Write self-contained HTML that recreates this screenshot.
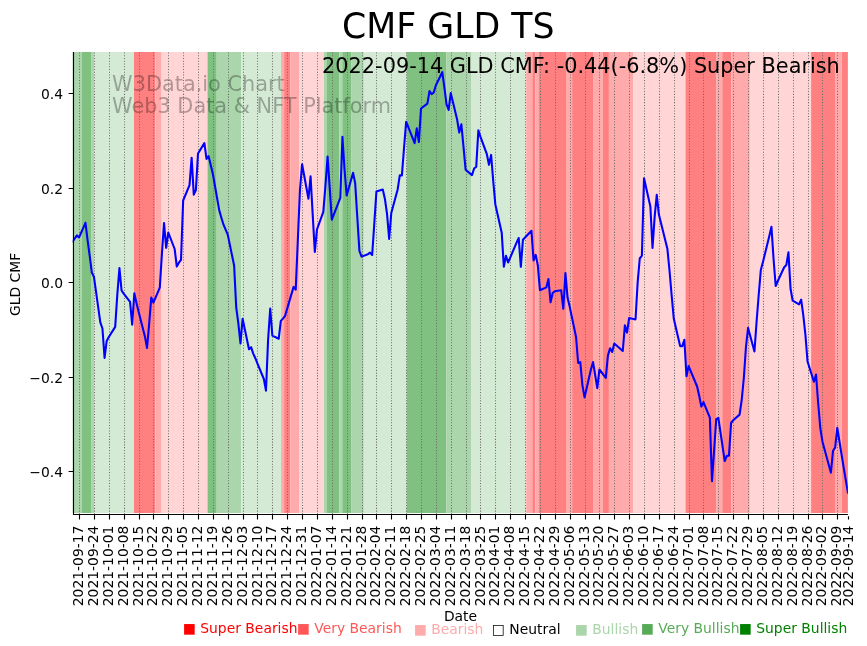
<!DOCTYPE html>
<html><head><meta charset="utf-8"><title>CMF GLD TS</title>
<style>html,body{margin:0;padding:0;background:#fff;}svg{display:block;}</style>
</head><body>
<svg width="867" height="646" viewBox="0 0 867 646">
<rect width="867" height="646" fill="#fff"/>
<rect x="72.71" y="52.0" width="9.19" height="461.0" fill="#abd5ab"/>
<rect x="81.90" y="52.0" width="9.19" height="461.0" fill="#80c080"/>
<rect x="91.09" y="52.0" width="3.06" height="461.0" fill="#abd5ab"/>
<rect x="94.16" y="52.0" width="39.83" height="461.0" fill="#d5ead5"/>
<rect x="133.99" y="52.0" width="21.45" height="461.0" fill="#ff8080"/>
<rect x="155.44" y="52.0" width="6.13" height="461.0" fill="#ffabab"/>
<rect x="161.56" y="52.0" width="45.96" height="461.0" fill="#ffd5d5"/>
<rect x="207.52" y="52.0" width="9.19" height="461.0" fill="#80c080"/>
<rect x="216.71" y="52.0" width="24.51" height="461.0" fill="#abd5ab"/>
<rect x="241.23" y="52.0" width="39.83" height="461.0" fill="#d5ead5"/>
<rect x="281.06" y="52.0" width="3.06" height="461.0" fill="#ffabab"/>
<rect x="284.12" y="52.0" width="6.13" height="461.0" fill="#ff8080"/>
<rect x="290.25" y="52.0" width="9.19" height="461.0" fill="#ffabab"/>
<rect x="299.44" y="52.0" width="24.51" height="461.0" fill="#ffd5d5"/>
<rect x="323.95" y="52.0" width="3.06" height="461.0" fill="#abd5ab"/>
<rect x="327.01" y="52.0" width="12.26" height="461.0" fill="#80c080"/>
<rect x="339.27" y="52.0" width="3.06" height="461.0" fill="#abd5ab"/>
<rect x="342.33" y="52.0" width="9.19" height="461.0" fill="#80c080"/>
<rect x="351.53" y="52.0" width="12.26" height="461.0" fill="#abd5ab"/>
<rect x="363.78" y="52.0" width="42.89" height="461.0" fill="#d5ead5"/>
<rect x="406.68" y="52.0" width="39.83" height="461.0" fill="#80c080"/>
<rect x="446.51" y="52.0" width="24.51" height="461.0" fill="#abd5ab"/>
<rect x="471.02" y="52.0" width="55.15" height="461.0" fill="#d5ead5"/>
<rect x="526.17" y="52.0" width="6.13" height="461.0" fill="#ffabab"/>
<rect x="532.30" y="52.0" width="3.06" height="461.0" fill="#ff8080"/>
<rect x="535.36" y="52.0" width="3.06" height="461.0" fill="#ffabab"/>
<rect x="538.42" y="52.0" width="27.58" height="461.0" fill="#ff8080"/>
<rect x="566.00" y="52.0" width="6.13" height="461.0" fill="#ffabab"/>
<rect x="572.13" y="52.0" width="21.45" height="461.0" fill="#ff8080"/>
<rect x="593.58" y="52.0" width="9.19" height="461.0" fill="#ffabab"/>
<rect x="602.77" y="52.0" width="6.13" height="461.0" fill="#ff8080"/>
<rect x="608.89" y="52.0" width="24.51" height="461.0" fill="#ffabab"/>
<rect x="633.41" y="52.0" width="52.09" height="461.0" fill="#ffd5d5"/>
<rect x="685.49" y="52.0" width="30.64" height="461.0" fill="#ff8080"/>
<rect x="716.13" y="52.0" width="6.13" height="461.0" fill="#ffabab"/>
<rect x="722.26" y="52.0" width="9.19" height="461.0" fill="#ff8080"/>
<rect x="731.45" y="52.0" width="18.38" height="461.0" fill="#ffabab"/>
<rect x="749.83" y="52.0" width="61.28" height="461.0" fill="#ffd5d5"/>
<rect x="811.11" y="52.0" width="24.51" height="461.0" fill="#ff8080"/>
<rect x="835.62" y="52.0" width="6.13" height="461.0" fill="#ffabab"/>
<rect x="841.75" y="52.0" width="6.13" height="461.0" fill="#ff8080"/>
<text x="112.1" y="90.8" font-family="DejaVu Sans, Liberation Sans, sans-serif" font-size="20.83" fill="#000" fill-opacity="0.3">W3Data.io Chart</text>
<text x="112.1" y="113.3" font-family="DejaVu Sans, Liberation Sans, sans-serif" font-size="20.83" fill="#000" fill-opacity="0.3">Web3 Data &amp; NFT Platform</text>
<path d="M79.5 514.4V52.0M94.5 514.4V52.0M109.5 514.4V52.0M124.5 514.4V52.0M139.5 514.4V52.0M153.5 514.4V52.0M168.5 514.4V52.0M183.5 514.4V52.0M198.5 514.4V52.0M213.5 514.4V52.0M228.5 514.4V52.0M243.5 514.4V52.0M257.5 514.4V52.0M272.5 514.4V52.0M287.5 514.4V52.0M302.5 514.4V52.0M317.5 514.4V52.0M332.5 514.4V52.0M347.5 514.4V52.0M362.5 514.4V52.0M376.5 514.4V52.0M391.5 514.4V52.0M406.5 514.4V52.0M421.5 514.4V52.0M436.5 514.4V52.0M451.5 514.4V52.0M466.5 514.4V52.0M480.5 514.4V52.0M495.5 514.4V52.0M510.5 514.4V52.0M525.5 514.4V52.0M540.5 514.4V52.0M555.5 514.4V52.0M570.5 514.4V52.0M585.5 514.4V52.0M599.5 514.4V52.0M614.5 514.4V52.0M629.5 514.4V52.0M644.5 514.4V52.0M659.5 514.4V52.0M674.5 514.4V52.0M689.5 514.4V52.0M703.5 514.4V52.0M718.5 514.4V52.0M733.5 514.4V52.0M748.5 514.4V52.0M763.5 514.4V52.0M778.5 514.4V52.0M793.5 514.4V52.0M808.5 514.4V52.0M822.5 514.4V52.0M837.5 514.4V52.0" stroke="#6e6e6e" stroke-width="1.04" stroke-dasharray="1.04 1.72" fill="none"/>
<defs><clipPath id="ax"><rect x="72.71" y="40" width="775.17" height="474"/></clipPath></defs>
<polyline clip-path="url(#ax)" points="72.71,241.60 74.83,238.30 76.96,235.40 79.08,237.40 85.45,222.80 87.58,240.20 89.70,255.90 91.82,272.50 93.95,276.80 100.32,322.30 102.44,328.50 104.57,357.90 106.69,340.90 108.81,337.00 115.19,326.90 117.31,294.60 119.43,268.10 121.56,290.50 123.68,293.60 130.05,301.80 132.18,324.60 134.30,293.30 136.42,302.70 138.55,311.50 144.92,336.40 147.04,348.00 149.17,323.60 151.29,297.60 153.41,302.70 159.79,287.60 161.91,253.80 164.03,223.00 166.16,247.80 168.28,232.50 174.65,249.00 176.78,266.50 178.90,262.70 181.02,259.80 183.15,200.50 189.52,185.20 191.64,157.70 193.77,194.60 195.89,190.00 198.01,153.50 204.39,143.10 206.51,158.90 208.63,156.20 210.76,165.30 212.88,174.00 219.25,210.40 221.38,217.80 223.50,224.70 227.75,234.60 234.12,265.50 236.24,307.60 238.37,323.70 240.49,343.50 242.61,318.80 248.99,349.20 251.11,347.20 253.23,353.60 255.36,358.20 257.48,363.60 263.85,379.00 265.98,390.60 268.10,339.60 270.22,308.50 272.35,335.60 278.72,338.70 280.84,320.90 282.97,318.60 285.09,315.80 293.59,286.90 295.71,289.70 297.83,240.00 299.96,190.00 302.08,164.30 308.45,198.70 310.58,176.40 312.70,214.60 314.82,252.00 316.95,229.50 323.32,211.80 325.44,185.70 327.57,156.50 329.69,187.40 331.81,219.70 340.31,197.80 342.43,136.80 344.56,170.00 346.68,195.50 353.05,172.80 355.18,183.20 357.30,217.30 359.42,251.00 361.55,256.60 367.92,254.20 370.04,252.70 372.17,255.00 374.29,223.60 376.41,191.50 382.78,189.50 384.91,198.90 387.03,213.80 389.16,239.00 391.28,213.00 397.65,189.50 399.78,175.40 401.90,175.40 404.02,148.20 406.15,121.70 414.64,143.20 416.77,128.40 418.89,142.00 421.01,108.50 427.38,103.60 429.51,91.10 431.63,94.10 433.76,92.50 435.88,85.20 442.25,72.20 444.38,87.30 446.50,104.10 448.62,110.00 450.75,93.10 457.12,119.50 459.24,132.50 461.37,124.30 463.49,146.60 465.61,169.70 471.98,175.10 474.11,168.50 476.23,166.70 478.36,130.40 480.48,136.90 486.85,154.20 488.97,164.80 491.10,154.90 493.22,181.00 495.35,204.40 501.72,232.80 503.84,266.70 505.97,255.80 508.09,262.50 510.21,257.60 516.58,242.70 518.71,238.00 520.83,266.80 522.96,239.70 531.45,230.80 533.57,260.50 535.70,254.90 537.82,265.20 539.95,290.20 546.32,287.40 548.44,279.10 550.57,302.30 552.69,293.00 554.81,291.20 561.18,290.20 563.31,308.80 565.43,273.00 567.56,297.80 569.68,306.60 576.05,337.00 578.17,363.00 580.30,362.10 582.42,385.30 584.55,397.40 590.92,369.50 593.04,362.10 595.16,375.10 597.29,388.10 599.41,369.50 605.78,377.90 607.91,355.60 610.03,348.20 612.16,351.90 614.28,343.50 622.77,351.00 624.90,325.20 627.02,332.60 629.15,318.00 635.52,319.40 637.64,282.60 639.76,258.50 641.89,255.70 644.01,178.30 650.38,206.50 652.51,248.00 654.63,217.10 656.76,194.80 658.88,214.60 667.37,248.70 669.50,270.50 671.62,295.00 673.75,318.50 680.12,346.10 682.24,346.10 684.36,339.80 686.49,376.30 688.61,366.10 697.11,386.50 699.23,396.00 701.35,406.60 703.48,402.20 709.85,417.60 711.97,481.10 714.10,450.80 716.22,419.20 718.35,417.90 724.72,461.00 726.84,455.80 728.96,455.80 731.09,423.00 733.21,420.20 739.58,414.60 741.71,400.00 743.83,378.00 745.95,347.00 748.08,327.90 754.45,351.40 756.57,322.00 758.70,295.00 760.82,270.00 762.95,262.00 769.32,236.00 771.44,226.80 773.56,259.00 775.69,286.00 777.81,281.00 784.18,267.20 786.31,265.10 788.43,252.30 790.55,288.80 792.68,300.70 799.05,304.30 801.17,299.70 803.30,315.30 805.42,334.80 807.54,361.50 813.92,381.80 816.04,374.60 818.16,403.00 820.29,427.80 822.41,441.40 830.91,472.70 833.03,450.80 835.15,447.60 837.28,427.80 843.65,467.50 845.77,480.00 847.90,492.60" fill="none" stroke="#0000ff" stroke-width="2.08" stroke-linejoin="round" stroke-linecap="square"/>
<path d="M73.5 52.0V514.5H847.88" stroke="#000" stroke-width="1.11" fill="none"/>
<path d="M79.5 514.5v4.9M94.5 514.5v4.9M109.5 514.5v4.9M124.5 514.5v4.9M139.5 514.5v4.9M153.5 514.5v4.9M168.5 514.5v4.9M183.5 514.5v4.9M198.5 514.5v4.9M213.5 514.5v4.9M228.5 514.5v4.9M243.5 514.5v4.9M257.5 514.5v4.9M272.5 514.5v4.9M287.5 514.5v4.9M302.5 514.5v4.9M317.5 514.5v4.9M332.5 514.5v4.9M347.5 514.5v4.9M362.5 514.5v4.9M376.5 514.5v4.9M391.5 514.5v4.9M406.5 514.5v4.9M421.5 514.5v4.9M436.5 514.5v4.9M451.5 514.5v4.9M466.5 514.5v4.9M480.5 514.5v4.9M495.5 514.5v4.9M510.5 514.5v4.9M525.5 514.5v4.9M540.5 514.5v4.9M555.5 514.5v4.9M570.5 514.5v4.9M585.5 514.5v4.9M599.5 514.5v4.9M614.5 514.5v4.9M629.5 514.5v4.9M644.5 514.5v4.9M659.5 514.5v4.9M674.5 514.5v4.9M689.5 514.5v4.9M703.5 514.5v4.9M718.5 514.5v4.9M733.5 514.5v4.9M748.5 514.5v4.9M763.5 514.5v4.9M778.5 514.5v4.9M793.5 514.5v4.9M808.5 514.5v4.9M822.5 514.5v4.9M837.5 514.5v4.9M848.5 516.3V519.4M73.5 93.5h-4.9M73.5 188.5h-4.9M73.5 282.5h-4.9M73.5 377.5h-4.9M73.5 471.5h-4.9" stroke="#000" stroke-width="1.11" fill="none"/>
<text x="63" y="98.7" font-family="DejaVu Sans, Liberation Sans, sans-serif" font-size="13.89" text-anchor="end">0.4</text>
<text x="63" y="193.7" font-family="DejaVu Sans, Liberation Sans, sans-serif" font-size="13.89" text-anchor="end">0.2</text>
<text x="63" y="287.7" font-family="DejaVu Sans, Liberation Sans, sans-serif" font-size="13.89" text-anchor="end">0.0</text>
<text x="63" y="382.7" font-family="DejaVu Sans, Liberation Sans, sans-serif" font-size="13.89" text-anchor="end">−0.2</text>
<text x="63" y="476.7" font-family="DejaVu Sans, Liberation Sans, sans-serif" font-size="13.89" text-anchor="end">−0.4</text>
<text transform="translate(83.12,525.6) rotate(-90)" font-family="DejaVu Sans, Liberation Sans, sans-serif" font-size="13.89" text-anchor="end">2021-09-17</text>
<text transform="translate(97.99,525.6) rotate(-90)" font-family="DejaVu Sans, Liberation Sans, sans-serif" font-size="13.89" text-anchor="end">2021-09-24</text>
<text transform="translate(112.85,525.6) rotate(-90)" font-family="DejaVu Sans, Liberation Sans, sans-serif" font-size="13.89" text-anchor="end">2021-10-01</text>
<text transform="translate(127.72,525.6) rotate(-90)" font-family="DejaVu Sans, Liberation Sans, sans-serif" font-size="13.89" text-anchor="end">2021-10-08</text>
<text transform="translate(142.59,525.6) rotate(-90)" font-family="DejaVu Sans, Liberation Sans, sans-serif" font-size="13.89" text-anchor="end">2021-10-15</text>
<text transform="translate(157.45,525.6) rotate(-90)" font-family="DejaVu Sans, Liberation Sans, sans-serif" font-size="13.89" text-anchor="end">2021-10-22</text>
<text transform="translate(172.32,525.6) rotate(-90)" font-family="DejaVu Sans, Liberation Sans, sans-serif" font-size="13.89" text-anchor="end">2021-10-29</text>
<text transform="translate(187.19,525.6) rotate(-90)" font-family="DejaVu Sans, Liberation Sans, sans-serif" font-size="13.89" text-anchor="end">2021-11-05</text>
<text transform="translate(202.05,525.6) rotate(-90)" font-family="DejaVu Sans, Liberation Sans, sans-serif" font-size="13.89" text-anchor="end">2021-11-12</text>
<text transform="translate(216.92,525.6) rotate(-90)" font-family="DejaVu Sans, Liberation Sans, sans-serif" font-size="13.89" text-anchor="end">2021-11-19</text>
<text transform="translate(231.79,525.6) rotate(-90)" font-family="DejaVu Sans, Liberation Sans, sans-serif" font-size="13.89" text-anchor="end">2021-11-26</text>
<text transform="translate(246.65,525.6) rotate(-90)" font-family="DejaVu Sans, Liberation Sans, sans-serif" font-size="13.89" text-anchor="end">2021-12-03</text>
<text transform="translate(261.52,525.6) rotate(-90)" font-family="DejaVu Sans, Liberation Sans, sans-serif" font-size="13.89" text-anchor="end">2021-12-10</text>
<text transform="translate(276.39,525.6) rotate(-90)" font-family="DejaVu Sans, Liberation Sans, sans-serif" font-size="13.89" text-anchor="end">2021-12-17</text>
<text transform="translate(291.25,525.6) rotate(-90)" font-family="DejaVu Sans, Liberation Sans, sans-serif" font-size="13.89" text-anchor="end">2021-12-24</text>
<text transform="translate(306.12,525.6) rotate(-90)" font-family="DejaVu Sans, Liberation Sans, sans-serif" font-size="13.89" text-anchor="end">2021-12-31</text>
<text transform="translate(320.99,525.6) rotate(-90)" font-family="DejaVu Sans, Liberation Sans, sans-serif" font-size="13.89" text-anchor="end">2022-01-07</text>
<text transform="translate(335.85,525.6) rotate(-90)" font-family="DejaVu Sans, Liberation Sans, sans-serif" font-size="13.89" text-anchor="end">2022-01-14</text>
<text transform="translate(350.72,525.6) rotate(-90)" font-family="DejaVu Sans, Liberation Sans, sans-serif" font-size="13.89" text-anchor="end">2022-01-21</text>
<text transform="translate(365.59,525.6) rotate(-90)" font-family="DejaVu Sans, Liberation Sans, sans-serif" font-size="13.89" text-anchor="end">2022-01-28</text>
<text transform="translate(380.45,525.6) rotate(-90)" font-family="DejaVu Sans, Liberation Sans, sans-serif" font-size="13.89" text-anchor="end">2022-02-04</text>
<text transform="translate(395.32,525.6) rotate(-90)" font-family="DejaVu Sans, Liberation Sans, sans-serif" font-size="13.89" text-anchor="end">2022-02-11</text>
<text transform="translate(410.19,525.6) rotate(-90)" font-family="DejaVu Sans, Liberation Sans, sans-serif" font-size="13.89" text-anchor="end">2022-02-18</text>
<text transform="translate(425.05,525.6) rotate(-90)" font-family="DejaVu Sans, Liberation Sans, sans-serif" font-size="13.89" text-anchor="end">2022-02-25</text>
<text transform="translate(439.92,525.6) rotate(-90)" font-family="DejaVu Sans, Liberation Sans, sans-serif" font-size="13.89" text-anchor="end">2022-03-04</text>
<text transform="translate(454.79,525.6) rotate(-90)" font-family="DejaVu Sans, Liberation Sans, sans-serif" font-size="13.89" text-anchor="end">2022-03-11</text>
<text transform="translate(469.65,525.6) rotate(-90)" font-family="DejaVu Sans, Liberation Sans, sans-serif" font-size="13.89" text-anchor="end">2022-03-18</text>
<text transform="translate(484.52,525.6) rotate(-90)" font-family="DejaVu Sans, Liberation Sans, sans-serif" font-size="13.89" text-anchor="end">2022-03-25</text>
<text transform="translate(499.38,525.6) rotate(-90)" font-family="DejaVu Sans, Liberation Sans, sans-serif" font-size="13.89" text-anchor="end">2022-04-01</text>
<text transform="translate(514.25,525.6) rotate(-90)" font-family="DejaVu Sans, Liberation Sans, sans-serif" font-size="13.89" text-anchor="end">2022-04-08</text>
<text transform="translate(529.12,525.6) rotate(-90)" font-family="DejaVu Sans, Liberation Sans, sans-serif" font-size="13.89" text-anchor="end">2022-04-15</text>
<text transform="translate(543.98,525.6) rotate(-90)" font-family="DejaVu Sans, Liberation Sans, sans-serif" font-size="13.89" text-anchor="end">2022-04-22</text>
<text transform="translate(558.85,525.6) rotate(-90)" font-family="DejaVu Sans, Liberation Sans, sans-serif" font-size="13.89" text-anchor="end">2022-04-29</text>
<text transform="translate(573.72,525.6) rotate(-90)" font-family="DejaVu Sans, Liberation Sans, sans-serif" font-size="13.89" text-anchor="end">2022-05-06</text>
<text transform="translate(588.58,525.6) rotate(-90)" font-family="DejaVu Sans, Liberation Sans, sans-serif" font-size="13.89" text-anchor="end">2022-05-13</text>
<text transform="translate(603.45,525.6) rotate(-90)" font-family="DejaVu Sans, Liberation Sans, sans-serif" font-size="13.89" text-anchor="end">2022-05-20</text>
<text transform="translate(618.32,525.6) rotate(-90)" font-family="DejaVu Sans, Liberation Sans, sans-serif" font-size="13.89" text-anchor="end">2022-05-27</text>
<text transform="translate(633.18,525.6) rotate(-90)" font-family="DejaVu Sans, Liberation Sans, sans-serif" font-size="13.89" text-anchor="end">2022-06-03</text>
<text transform="translate(648.05,525.6) rotate(-90)" font-family="DejaVu Sans, Liberation Sans, sans-serif" font-size="13.89" text-anchor="end">2022-06-10</text>
<text transform="translate(662.92,525.6) rotate(-90)" font-family="DejaVu Sans, Liberation Sans, sans-serif" font-size="13.89" text-anchor="end">2022-06-17</text>
<text transform="translate(677.78,525.6) rotate(-90)" font-family="DejaVu Sans, Liberation Sans, sans-serif" font-size="13.89" text-anchor="end">2022-06-24</text>
<text transform="translate(692.65,525.6) rotate(-90)" font-family="DejaVu Sans, Liberation Sans, sans-serif" font-size="13.89" text-anchor="end">2022-07-01</text>
<text transform="translate(707.52,525.6) rotate(-90)" font-family="DejaVu Sans, Liberation Sans, sans-serif" font-size="13.89" text-anchor="end">2022-07-08</text>
<text transform="translate(722.38,525.6) rotate(-90)" font-family="DejaVu Sans, Liberation Sans, sans-serif" font-size="13.89" text-anchor="end">2022-07-15</text>
<text transform="translate(737.25,525.6) rotate(-90)" font-family="DejaVu Sans, Liberation Sans, sans-serif" font-size="13.89" text-anchor="end">2022-07-22</text>
<text transform="translate(752.12,525.6) rotate(-90)" font-family="DejaVu Sans, Liberation Sans, sans-serif" font-size="13.89" text-anchor="end">2022-07-29</text>
<text transform="translate(766.98,525.6) rotate(-90)" font-family="DejaVu Sans, Liberation Sans, sans-serif" font-size="13.89" text-anchor="end">2022-08-05</text>
<text transform="translate(781.85,525.6) rotate(-90)" font-family="DejaVu Sans, Liberation Sans, sans-serif" font-size="13.89" text-anchor="end">2022-08-12</text>
<text transform="translate(796.72,525.6) rotate(-90)" font-family="DejaVu Sans, Liberation Sans, sans-serif" font-size="13.89" text-anchor="end">2022-08-19</text>
<text transform="translate(811.58,525.6) rotate(-90)" font-family="DejaVu Sans, Liberation Sans, sans-serif" font-size="13.89" text-anchor="end">2022-08-26</text>
<text transform="translate(826.45,525.6) rotate(-90)" font-family="DejaVu Sans, Liberation Sans, sans-serif" font-size="13.89" text-anchor="end">2022-09-02</text>
<text transform="translate(841.32,525.6) rotate(-90)" font-family="DejaVu Sans, Liberation Sans, sans-serif" font-size="13.89" text-anchor="end">2022-09-09</text>
<text transform="translate(852.74,525.6) rotate(-90)" font-family="DejaVu Sans, Liberation Sans, sans-serif" font-size="13.89" text-anchor="end">2022-09-14</text>
<text transform="translate(20.1,284.4) rotate(-90)" font-family="DejaVu Sans, Liberation Sans, sans-serif" font-size="13.89" text-anchor="middle">GLD CMF</text>
<text x="460.5" y="620.8" font-family="DejaVu Sans, Liberation Sans, sans-serif" font-size="13.89" text-anchor="middle">Date</text>
<text x="448.3" y="37.9" font-family="DejaVu Sans, Liberation Sans, sans-serif" font-size="34.72" text-anchor="middle">CMF GLD TS</text>
<text x="839.8" y="73.3" font-family="DejaVu Sans, Liberation Sans, sans-serif" font-size="20.83" text-anchor="end">2022-09-14 GLD CMF: -0.44(-6.8%) Super Bearish</text>
<text x="182.75" y="633.3" font-family="DejaVu Sans, Liberation Sans, sans-serif" font-size="13.89" fill="#ff0000">■ Super Bearish</text>
<text x="296.75" y="633.3" font-family="DejaVu Sans, Liberation Sans, sans-serif" font-size="13.89" fill="#ff5757">■ Very Bearish</text>
<text x="413.70" y="634.3" font-family="DejaVu Sans, Liberation Sans, sans-serif" font-size="13.89" fill="#ffabab">■ Bearish</text>
<text x="491.80" y="634.3" font-family="DejaVu Sans, Liberation Sans, sans-serif" font-size="13.89" fill="#000000">□ Neutral</text>
<text x="574.75" y="634.3" font-family="DejaVu Sans, Liberation Sans, sans-serif" font-size="13.89" fill="#abd5ab">■ Bullish</text>
<text x="640.75" y="633.3" font-family="DejaVu Sans, Liberation Sans, sans-serif" font-size="13.89" fill="#57ab57">■ Very Bullish</text>
<text x="738.75" y="633.3" font-family="DejaVu Sans, Liberation Sans, sans-serif" font-size="13.89" fill="#008000">■ Super Bullish</text>
</svg>
</body></html>
